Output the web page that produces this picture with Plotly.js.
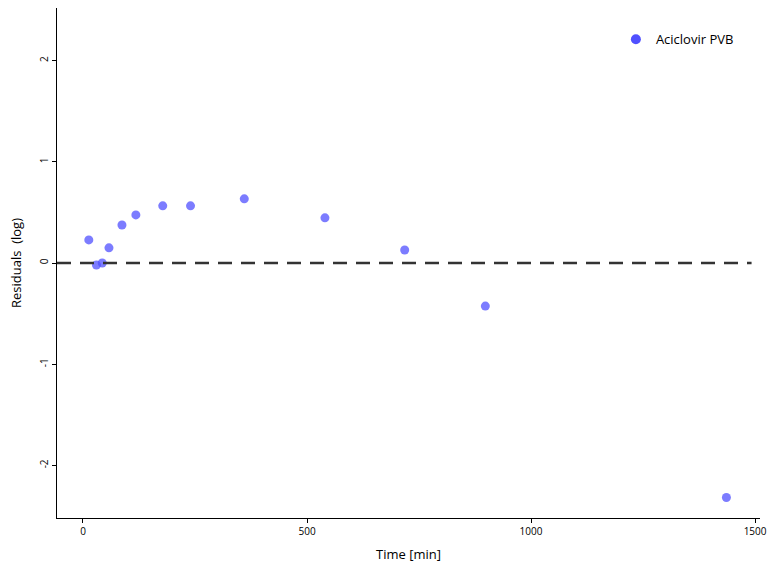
<!DOCTYPE html>
<html>
<head>
<meta charset="utf-8">
<script src="https://cdn.plot.ly/plotly-3.0.1.min.js"></script>
<style>body{margin:0;padding:0;background:#fff;}#chart{width:768px;height:576px;}</style>
</head>
<body>
<div id="chart"></div>
<script>
const seriesName = "Aciclovir PVB";
const timeMin = [13, 30, 43, 58, 87, 118, 178, 240, 360, 540, 718, 898, 1436];
const residuals = [0.228, -0.02, 0.0, 0.15, 0.376, 0.475, 0.565, 0.565, 0.634, 0.446, 0.129, -0.426, -2.317];
const xTicks = [0, 500, 1000, 1500];
const yTicks = [-2, -1, 0, 1, 2];

const traces = [
  {
    x: timeMin, y: residuals, type: 'scatter', mode: 'markers', name: seriesName,
    marker: {color: 'rgb(80,80,255)', size: 9, opacity: 0.75}, showlegend: false
  },
  {
    x: [null], y: [null], type: 'scatter', mode: 'markers', name: seriesName,
    marker: {color: 'rgb(80,80,255)', size: 10}, showlegend: true
  }
];

const layout = {
  width: 768, height: 576,
  margin: {l: 57, r: 8, t: 8, b: 58},
  paper_bgcolor: '#fff', plot_bgcolor: '#fff',
  font: {family: 'Open Sans, Noto Sans, sans-serif', color: '#000'},
  xaxis: {
    range: [-58, 1511], tickvals: xTicks, ticktext: xTicks.map(String),
    showgrid: false, zeroline: false, showline: true, linecolor: '#000', linewidth: 1.2,
    ticks: 'outside', ticklen: 4, tickcolor: '#000', tickwidth: 1,
    tickfont: {size: 10, color: '#000'},
    title: {text: 'Time [min]', font: {size: 13}, standoff: 12}
  },
  yaxis: {
    range: [-2.52, 2.52], tickvals: yTicks, ticktext: yTicks.map(String),
    showgrid: false, zeroline: false, showline: true, linecolor: '#000', linewidth: 1.2,
    ticks: 'outside', ticklen: 4, tickcolor: '#000', tickwidth: 1, tickangle: -90,
    tickfont: {size: 10, color: '#000'},
    title: {text: 'Residuals\u00a0\u00a0(log)', font: {size: 13}, standoff: 12}
  },
  shapes: [{
    type: 'line', xref: 'paper', x0: 0, x1: 0.988, yref: 'y', y0: 0, y1: 0,
    line: {color: '#333', width: 2.5, dash: '14px,9px'}
  }],
  legend: {
    x: 0.795, y: 0.968, xanchor: 'left', yanchor: 'top',
    bgcolor: 'rgba(0,0,0,0)', font: {size: 13}
  }
};

Plotly.newPlot('chart', traces, layout, {displayModeBar: false, staticPlot: true});
</script>
</body>
</html>
